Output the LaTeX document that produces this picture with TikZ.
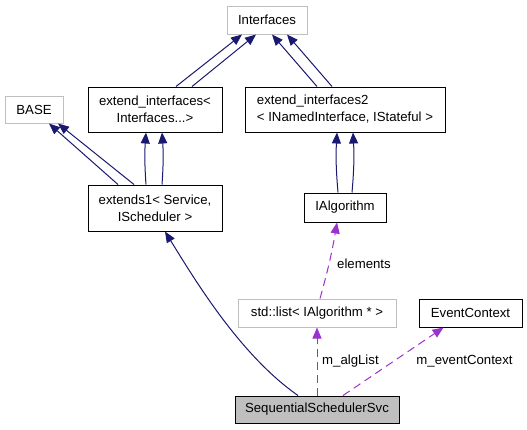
\documentclass[tikz,border=0pt]{standalone}
\usepackage{fontspec}
\setmainfont{Liberation Sans}
\usetikzlibrary{arrows.meta}
\definecolor{navyedge}{HTML}{191970}
\definecolor{purpleedge}{HTML}{9A32CD}
\definecolor{graybox}{HTML}{BFBFBF}
\tikzset{
  cls/.style={draw=black, line width=1pt, rectangle, inner sep=0pt, font=\fontsize{13.2}{17}\selectfont, align=center},
  extcls/.style={cls, draw=graybox},
  inh/.style={draw=navyedge, line width=1pt, -{Triangle[length=11pt,width=9pt]}},
  usage/.style={draw=purpleedge, line width=1pt, dash pattern=on 8pt off 5pt, -{Triangle[length=11pt,width=9pt]}},
  lbl/.style={font=\fontsize{13.2}{17}\selectfont, inner sep=0pt}
}
\begin{document}
\begin{tikzpicture}[x=1pt,y=-1pt]
\useasboundingbox (0,0) rectangle (527,429);
\node[extcls, minimum width=80pt, minimum height=28pt] (ifc) at (267,20) {Interfaces};
\node[extcls, minimum width=58pt, minimum height=27pt] (base) at (34,109.5) {BASE};
\node[cls, minimum width=134pt, minimum height=45pt] (ei) at (155,109.5) {extend\_interfaces<\\Interfaces...>};
\node[cls, minimum width=200pt, minimum height=45pt, align=left] (ei2) at (345,109.5) {extend\_interfaces2\\< INamedInterface, IStateful >};
\node[cls, minimum width=134pt, minimum height=46pt] (ext1) at (155,208) {extends1< Service,\\IScheduler >};
\node[cls, minimum width=82pt, minimum height=29pt] (ialg) at (345,207.5) {IAlgorithm};
\node[extcls, minimum width=158pt, minimum height=28pt] (slist) at (317,313) {std::list< IAlgorithm * >};
\node[cls, minimum width=103pt, minimum height=28pt] (evc) at (470.5,313) {EventContext};
\node[cls, fill=graybox, minimum width=164pt, minimum height=27pt] (sss) at (317,409.5) {SequentialSchedulerSvc};

% inheritance
\draw[inh] ([xshift=21pt]ei.north) -- ([xshift=-25pt]ifc.south);
\draw[inh] ([xshift=37pt]ei.north) -- ([xshift=-11pt]ifc.south);
\draw[inh] ([xshift=-28pt]ei2.north) -- ([xshift=5pt]ifc.south);
\draw[inh] ([xshift=-13pt]ei2.north) -- ([xshift=20pt]ifc.south);
\draw[inh] ([xshift=-37pt]ext1.north) -- ([xshift=15pt]base.south);
\draw[inh] ([xshift=-21pt]ext1.north) -- ([xshift=24pt]base.south);
\draw[inh] ([xshift=-9pt]ext1.north) to[bend left=4] ([xshift=-9pt]ei.south);
\draw[inh] ([xshift=7pt]ext1.north) to[bend right=4] ([xshift=7pt]ei.south);
\draw[inh] ([xshift=-7pt]ialg.north) to[bend left=4] ([xshift=-8pt]ei2.south);
\draw[inh] ([xshift=7pt]ialg.north) to[bend right=4] ([xshift=8pt]ei2.south);
\draw[inh] ([xshift=-19pt]sss.north) .. controls (240,355) and (195,280) .. ([xshift=10pt]ext1.south);

% usage
\draw[usage] (sss.north) -- (slist.south);
\node[lbl, anchor=west] (lalg) at (322,361) {m\_algList};
\draw[usage] ([xshift=26pt]sss.north) -- ([xshift=-27pt]evc.south);
\node[lbl] (levc) at (464.5,361) {m\_eventContext};
\draw[usage] ([xshift=3pt]slist.north) to[bend right=3] ([xshift=-8pt]ialg.south);
\node[lbl, anchor=west] (lel) at (337,264) {elements};
\end{tikzpicture}
\end{document}
